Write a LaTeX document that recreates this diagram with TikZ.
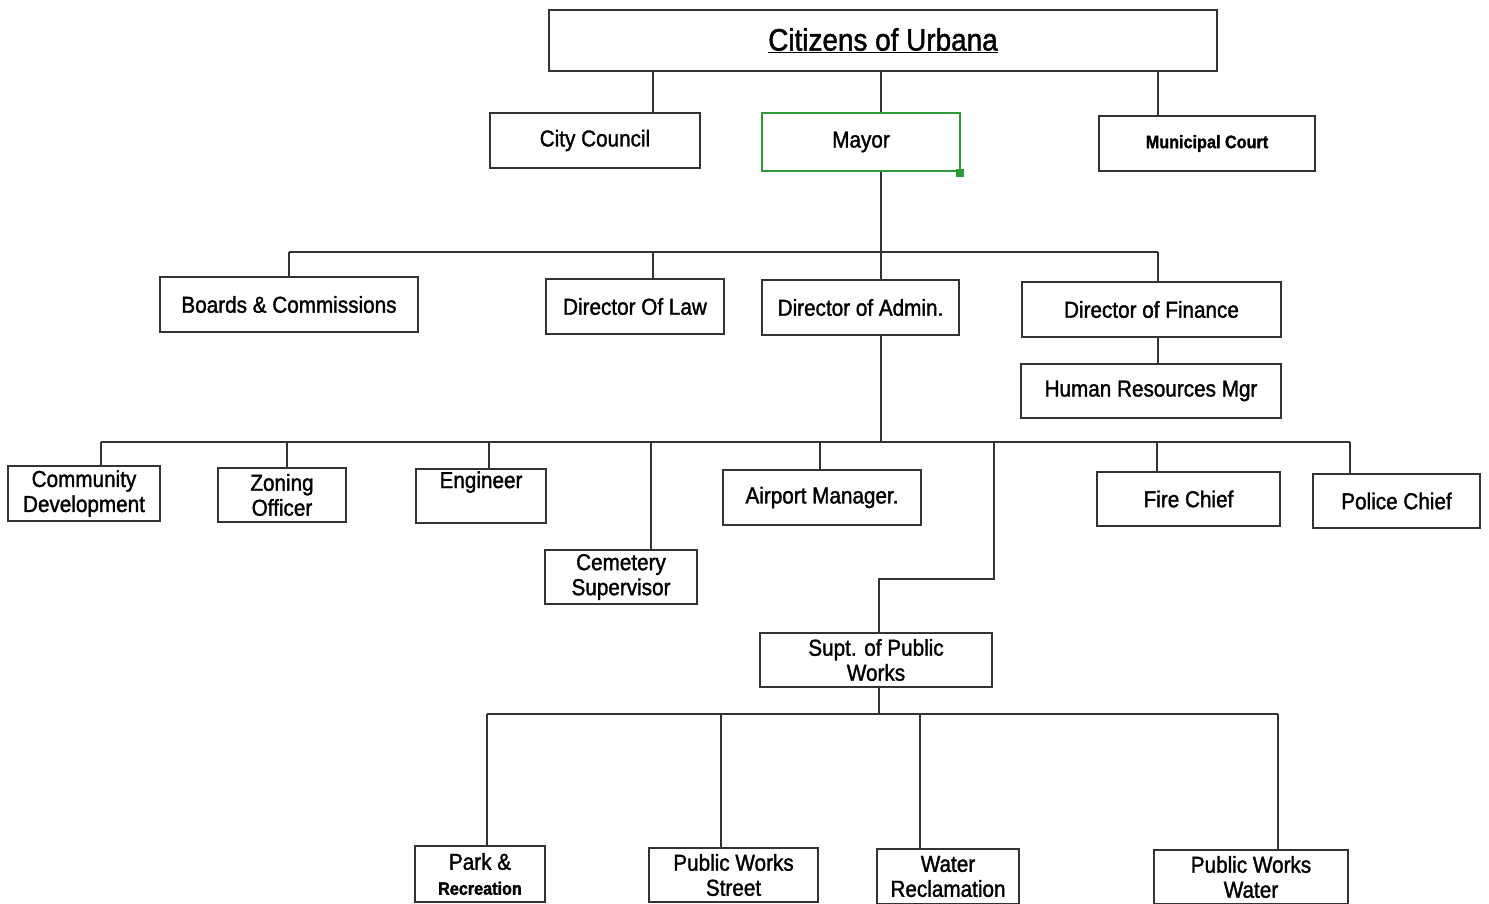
\documentclass[tikz,border=0pt]{standalone}
\usepackage{fontspec}
\setmainfont{Liberation Sans}[FakeStretch=0.9,FakeBold=1.5]
\newcommand{\fsn}{\fontsize{23}{25}\selectfont}
\newcommand{\fss}{\fontsize{18}{20}\selectfont\bfseries}
\newcommand{\fst}{\fontsize{31}{34}\selectfont}
\definecolor{linec}{HTML}{333333}
\definecolor{mayorgreen}{HTML}{2E9A3A}
\begin{document}
\begin{tikzpicture}[x=1pt,y=-1pt,
  box/.style={draw=linec, line width=1.6pt, inner sep=0pt, align=center, font=\fsn, text=black},
  conn/.style={draw=linec, line width=1.5pt}]
\useasboundingbox (0,0) rectangle (1489,904);
\fill[white] (0,0) rectangle (1489,904);

% top level
\node[box, minimum width=668pt, minimum height=61pt] (cit) at (883,40.5) {\fst\underline{Citizens of Urbana}};
\node[box, minimum width=210pt, minimum height=55pt] (cc) at (595,140.5) {City Council};
\node[box, draw=mayorgreen, line width=2pt, minimum width=198pt, minimum height=58pt] (mayor) at (861,142) {Mayor};
\fill[mayorgreen] ([xshift=-5pt,yshift=-5pt]mayor.south east) rectangle ([xshift=3pt,yshift=3pt]mayor.south east);
\node[box, minimum width=216pt, minimum height=55pt, font=\fss] (mc) at (1207,143.5) {Municipal Court};

% second level
\node[box, minimum width=258pt, minimum height=55pt] (boards) at (289,304.5) {Boards \& Commissions};
\node[box, minimum width=178pt, minimum height=55pt] (law) at (635,306.5) {Director Of Law};
\node[box, minimum width=197pt, minimum height=55pt] (admin) at (860.5,307.5) {Director of Admin.};
\node[box, minimum width=259pt, minimum height=55pt] (fin) at (1151.5,309.5) {Director of Finance};
\node[box, minimum width=260pt, minimum height=54pt] (hr) at (1151,391) {Human Resources Mgr};

% third level
\node[box, minimum width=152pt, minimum height=55pt] (comm) at (84,493.5) {Community\\Development};
\node[box, minimum width=128pt, minimum height=54pt] (zon) at (282,495) {Zoning\\Officer};
\node[box, minimum width=130pt, minimum height=54pt,
  label={[anchor=north, inner sep=0pt, yshift=-3pt, font=\fsn]north:Engineer}] (eng) at (481,496) {};
\node[box, minimum width=152pt, minimum height=54pt] (cem) at (621,577) {Cemetery\\Supervisor};
\node[box, minimum width=198pt, minimum height=55pt] (air) at (822,497.5) {Airport Manager.};
\node[box, minimum width=183pt, minimum height=54pt] (fire) at (1188.5,499) {Fire Chief};
\node[box, minimum width=167pt, minimum height=54pt] (police) at (1396.5,501) {Police Chief};
\node[box, minimum width=232pt, minimum height=54pt] (supt) at (876,660) {Supt. of Public\\Works};

% fourth level
\node[box, minimum width=130pt, minimum height=56pt] (park) at (480,874) {Park \&\\{\fss Recreation}};
\node[box, minimum width=169pt, minimum height=54pt] (pws) at (733.5,875) {Public Works\\Street};
\node[box, minimum width=142pt, minimum height=55pt] (wr) at (948,876.5) {Water\\Reclamation};
\node[box, minimum width=194pt, minimum height=54pt] (pww) at (1251,877) {Public Works\\Water};

% connector columns and buses
\coordinate (k653) at (653,0);
\coordinate (k881) at (881,0);
\coordinate (k1158) at (1158,0);
\coordinate (bus1) at (0,252);
\coordinate (bus2) at (0,442);
\coordinate (bus3) at (0,714);
\coordinate (k101) at (101,0);
\coordinate (k287) at (287,0);
\coordinate (k489) at (489,0);
\coordinate (k651) at (651,0);
\coordinate (k820) at (820,0);
\coordinate (k994) at (994,0);
\coordinate (k1157) at (1157,0);
\coordinate (k1350) at (1350,0);
\coordinate (jog) at (879,579);
\coordinate (k487) at (487,0);
\coordinate (k721) at (721,0);
\coordinate (k920) at (920,0);
\coordinate (k1278) at (1278,0);

% citizens to top row
\draw[conn] (cit.south -| k653) -- (cc.north -| k653);
\draw[conn] (cit.south -| k881) -- (mayor.north -| k881);
\draw[conn] (cit.south -| k1158) -- (mc.north -| k1158);

% mayor to second row
\draw[conn] (mayor.south -| k881) -- (bus1 -| k881);
\draw[conn] (bus1 -| boards.north) -- (bus1 -| k1158);
\draw[conn] (bus1 -| boards.north) -- (boards.north);
\draw[conn] (bus1 -| k653) -- (law.north -| k653);
\draw[conn] (bus1 -| k881) -- (admin.north -| k881);
\draw[conn] (bus1 -| k1158) -- (fin.north -| k1158);
\draw[conn] (fin.south -| k1158) -- (hr.north -| k1158);

% admin to third row
\draw[conn] (admin.south -| k881) -- (bus2 -| k881);
\draw[conn] (bus2 -| k101) -- (bus2 -| k1350);
\draw[conn] (bus2 -| k101) -- (comm.north -| k101);
\draw[conn] (bus2 -| k287) -- (zon.north -| k287);
\draw[conn] (bus2 -| k489) -- (eng.north -| k489);
\draw[conn] (bus2 -| k651) -- (cem.north -| k651);
\draw[conn] (bus2 -| k820) -- (air.north -| k820);
\draw[conn] (bus2 -| k1157) -- (fire.north -| k1157);
\draw[conn] (bus2 -| k1350) -- (police.north -| k1350);
\draw[conn] (bus2 -| k994) -- (jog -| k994) -- (jog) -- (supt.north -| jog);

% supt to fourth row
\draw[conn] (supt.south -| jog) -- (bus3 -| jog);
\draw[conn] (bus3 -| k487) -- (bus3 -| k1278);
\draw[conn] (bus3 -| k487) -- (park.north -| k487);
\draw[conn] (bus3 -| k721) -- (pws.north -| k721);
\draw[conn] (bus3 -| k920) -- (wr.north -| k920);
\draw[conn] (bus3 -| k1278) -- (pww.north -| k1278);
\end{tikzpicture}
\end{document}
